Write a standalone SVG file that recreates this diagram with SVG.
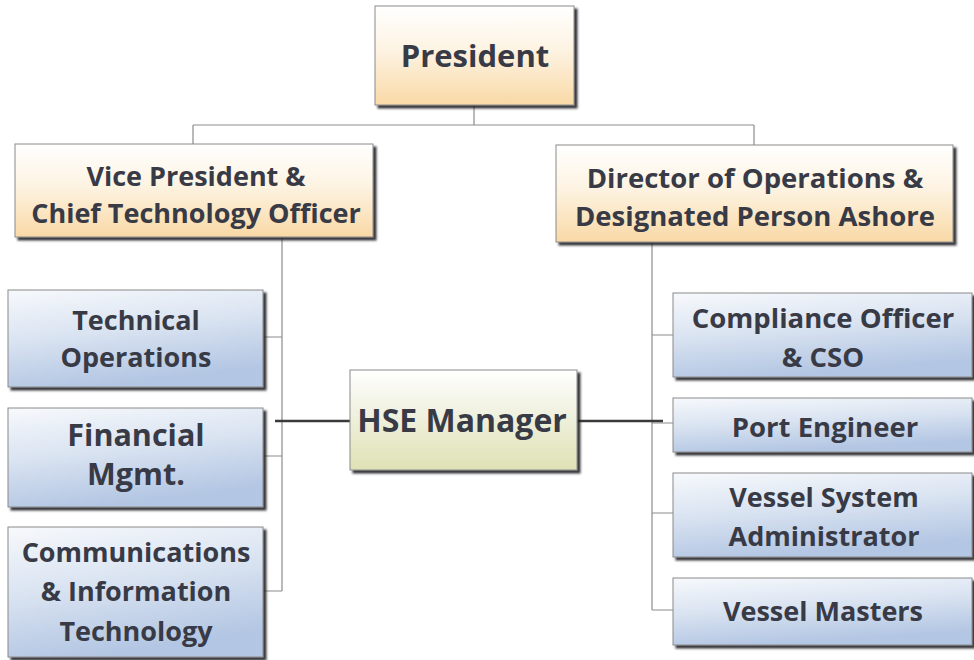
<svg xmlns="http://www.w3.org/2000/svg" width="974" height="660" viewBox="0 0 974 660">
  <defs>
    <linearGradient id="gOrange" x1="0" y1="0" x2="0" y2="1">
      <stop offset="0" stop-color="#ffffff"/>
      <stop offset="0.45" stop-color="#fdf3e2"/>
      <stop offset="1" stop-color="#f9d9a6"/>
    </linearGradient>
    <linearGradient id="gBlue" x1="0" y1="0" x2="0.3" y2="1">
      <stop offset="0" stop-color="#f7f9fc"/>
      <stop offset="0.5" stop-color="#d9e3f1"/>
      <stop offset="1" stop-color="#b3c6e3"/>
    </linearGradient>
    <linearGradient id="gGreen" x1="0" y1="0" x2="0" y2="1">
      <stop offset="0" stop-color="#ffffff"/>
      <stop offset="0.4" stop-color="#f1f2e2"/>
      <stop offset="1" stop-color="#dfe2b4"/>
    </linearGradient>
    <filter id="shadow" x="-5%" y="-5%" width="115%" height="120%">
      <feDropShadow dx="3" dy="3" stdDeviation="1.2" flood-color="#1e1e24" flood-opacity="0.9"/>
    </filter>
  </defs>
  <style>
    .box { stroke: #8a8a8a; stroke-width: 1; filter: url(#shadow); }
    .org { fill: url(#gOrange); }
    .blue { fill: url(#gBlue); }
    .green { fill: url(#gGreen); }
    .lbl { font-family: "Open Sans", "Noto Sans", "Liberation Sans", sans-serif; font-weight: bold; fill: #383a46; text-anchor: middle; }
    .conn { stroke: #8c8c8c; stroke-width: 1.2; fill: none; }
    .hse { stroke: #3a3a3a; stroke-width: 2.5; fill: none; }
  </style>
  <rect width="974" height="660" fill="#ffffff"/>

  <g id="connectors">
    <path class="conn" d="M474,105 V125 M193,125 H754 M193,125 V144 M754,125 V145"/>
    <path class="conn" d="M282,237 V591 M263,337 H282 M263,456 H282 M263,591 H282"/>
    <path class="conn" d="M652,242 V610 M652,335 H673 M652,423 H673 M652,513 H673 M652,610 H673"/>
    <path class="hse" d="M275,421 H350 M577,421 H663"/>
  </g>

  <g id="president">
    <rect class="box org" x="375" y="6" width="199" height="99"/>
    <text class="lbl" x="475" y="67" font-size="31">President</text>
  </g>

  <g id="vp-cto">
    <rect class="box org" x="15" y="144" width="358" height="93"/>
    <text class="lbl" x="196" y="186" font-size="27">Vice President &amp;</text>
    <text class="lbl" x="196" y="223" font-size="27">Chief Technology Officer</text>
  </g>

  <g id="director-ops">
    <rect class="box org" x="556" y="145" width="397" height="97"/>
    <text class="lbl" x="755" y="188" font-size="27.5">Director of Operations &amp;</text>
    <text class="lbl" x="755" y="226" font-size="27.5">Designated Person Ashore</text>
  </g>

  <g id="technical-ops">
    <rect class="box blue" x="8" y="290" width="255" height="97"/>
    <text class="lbl" x="136" y="330" font-size="27">Technical</text>
    <text class="lbl" x="136" y="367" font-size="27">Operations</text>
  </g>

  <g id="financial-mgmt">
    <rect class="box blue" x="8" y="408" width="255" height="99"/>
    <text class="lbl" x="136" y="446" font-size="30.5">Financial</text>
    <text class="lbl" x="136" y="485" font-size="30.5">Mgmt.</text>
  </g>

  <g id="comms-it">
    <rect class="box blue" x="8" y="527" width="255" height="130"/>
    <text class="lbl" x="136" y="562" font-size="27">Communications</text>
    <text class="lbl" x="136" y="601" font-size="27">&amp; Information</text>
    <text class="lbl" x="136" y="641" font-size="27">Technology</text>
  </g>

  <g id="hse-manager">
    <rect class="box green" x="350" y="370" width="227" height="100"/>
    <text class="lbl" x="462" y="432" font-size="32">HSE Manager</text>
  </g>

  <g id="compliance-officer">
    <rect class="box blue" x="673" y="293" width="299" height="84"/>
    <text class="lbl" x="823" y="328" font-size="27.5">Compliance Officer</text>
    <text class="lbl" x="823" y="367" font-size="27.5">&amp; CSO</text>
  </g>

  <g id="port-engineer">
    <rect class="box blue" x="673" y="398" width="299" height="54"/>
    <text class="lbl" x="825" y="437" font-size="27.5">Port Engineer</text>
  </g>

  <g id="vessel-sysadmin">
    <rect class="box blue" x="673" y="473" width="299" height="84"/>
    <text class="lbl" x="824" y="507" font-size="27">Vessel System</text>
    <text class="lbl" x="824" y="546" font-size="27">Administrator</text>
  </g>

  <g id="vessel-masters">
    <rect class="box blue" x="673" y="578" width="299" height="67"/>
    <text class="lbl" x="823" y="621" font-size="27">Vessel Masters</text>
  </g>
</svg>
